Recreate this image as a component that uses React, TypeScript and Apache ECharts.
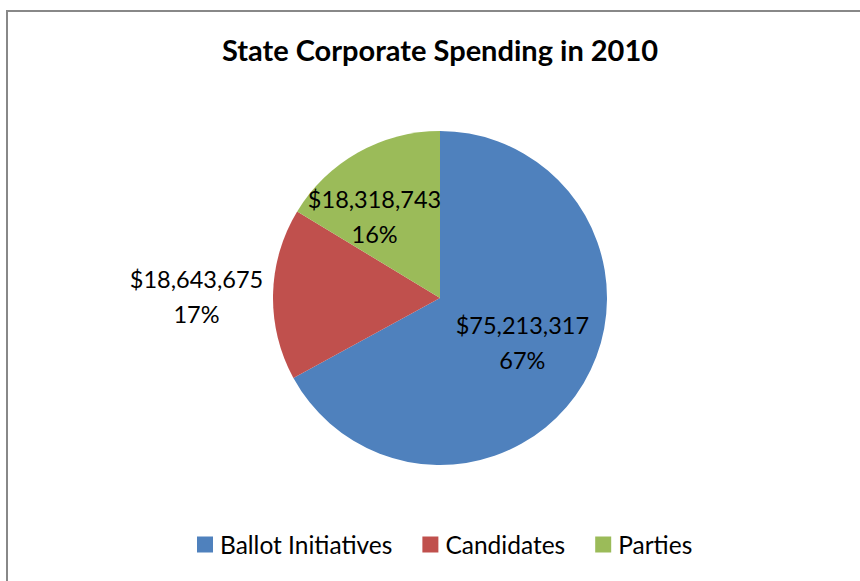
import React, { useEffect, useRef } from "react";
import * as echarts from "echarts";

const categories = ["Ballot Initiatives", "Candidates", "Parties"];
const values = [75213317, 18643675, 18318743];
const colors = ["#4F81BD", "#C0504D", "#9BBB59"];
// label nudges (px) from the default inside position
const labelShift = [
  [8, 0],
  [-157, 0],
  [-23, -6],
];

export default function App() {
  const ref = useRef<HTMLDivElement>(null);
  useEffect(() => {
    if (!ref.current) return;
    const chart = echarts.init(ref.current, undefined, { renderer: "svg" });
    const total = values.reduce((a, b) => a + b, 0);
    chart.setOption({
      animation: false,
      backgroundColor: "#ffffff",
      textStyle: { fontFamily: "Lato" },
      title: {
        text: "State Corporate Spending in 2010",
        left: 440,
        textAlign: "center",
        top: 35,
        padding: 0,
        textStyle: { fontFamily: "Lato", fontWeight: "bold", fontSize: 29, color: "#000" },
      },
      legend: {
        data: categories,
        left: 197,
        top: 532,
        icon: "rect",
        itemWidth: 16,
        itemHeight: 16,
        itemGap: 30,
        padding: 0,
        textStyle: { fontFamily: "Lato", fontSize: 24.5, color: "#000", padding: [0, 0, 0, 2] },
      },
      graphic: [
        {
          type: "rect",
          shape: { x: 7, y: 11, width: 900, height: 620 },
          style: { fill: "none", stroke: "#888888", lineWidth: 2 },
          silent: true,
        },
      ],
      series: [
        {
          type: "pie",
          center: [440, 298],
          radius: [0, 167],
          startAngle: 90,
          clockwise: true,
          avoidLabelOverlap: false,
          data: categories.map((c, i) => ({
            name: c,
            value: values[i],
            itemStyle: { color: colors[i] },
          })),
          label: {
            show: true,
            position: "inside",
            fontFamily: "Lato",
            fontSize: 23.5,
            lineHeight: 35,
            color: "#000",
            align: "center",
            formatter: (p: any) =>
              "$" + p.value.toLocaleString("en-US") + "\n" + Math.round((p.value / total) * 100) + "%",
          },
          labelLine: { show: false },
          labelLayout: (p: any) => ({
            dx: labelShift[p.dataIndex][0],
            dy: labelShift[p.dataIndex][1],
          }),
          emphasis: { disabled: true },
        },
      ],
    });
    return () => chart.dispose();
  }, []);
  return (
    <div
      ref={ref}
      style={{ position: "absolute", left: 0, top: 0, width: 860, height: 581 }}
    />
  );
}
